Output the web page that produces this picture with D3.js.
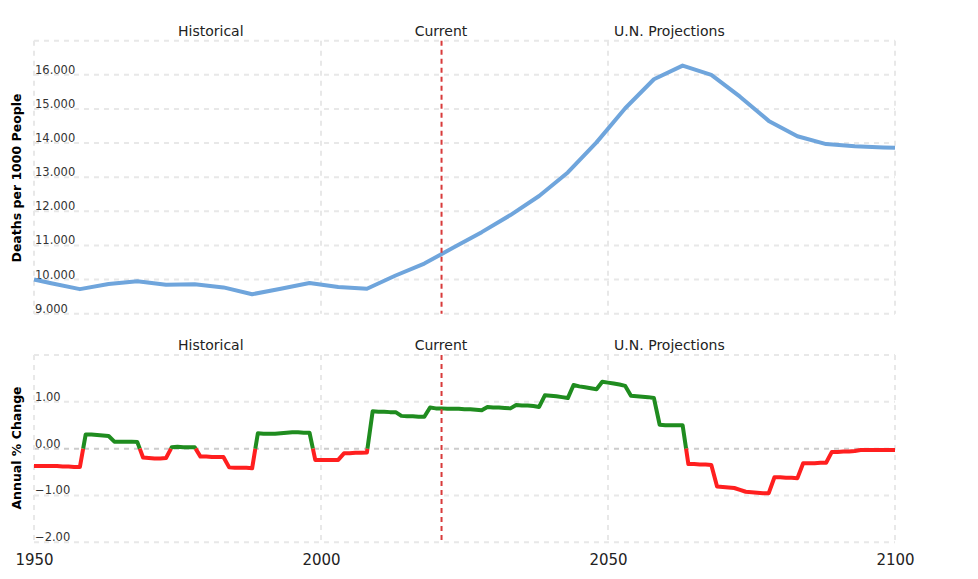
<!DOCTYPE html>
<html><head><meta charset="utf-8">
<script src="https://cdn.jsdelivr.net/npm/d3@7"></script>
<style>body{margin:0;background:#fff;}svg{display:block;font-family:"DejaVu Sans",Verdana,sans-serif;}</style>
</head><body>
<svg id="c" width="978" height="579"></svg>
<script>
// ---- data ----
const rateYears = [1950,1953,1958,1963,1968,1973,1978,1983,1988,1993,1998,2003,2008,2013,2018,2023,2028,2033,2038,2043,2048,2053,2058,2063,2068,2073,2078,2083,2088,2093,2098,2100];
const rateValues = [10.00,9.89,9.72,9.87,9.95,9.85,9.86,9.77,9.57,9.73,9.90,9.78,9.73,10.12,10.47,10.93,11.39,11.89,12.45,13.14,14.02,15.02,15.87,16.27,16.00,15.36,14.65,14.20,13.97,13.91,13.87,13.86];
const changeStartYear = 1950;
const changeValues = [
 -0.37,-0.37,-0.37,-0.37,-0.37,-0.38,-0.38,-0.39,-0.39,
 0.30,0.30,0.29,0.28,0.27,
 0.15,0.15,0.15,0.15,0.14,
 -0.19,-0.20,-0.21,-0.21,-0.20,
 0.03,0.04,0.03,0.03,0.03,
 -0.17,-0.17,-0.18,-0.18,-0.18,
 -0.40,-0.41,-0.41,-0.41,-0.42,
 0.33,0.32,0.32,0.32,0.33,
 0.34,0.35,0.35,0.34,0.34,
 -0.24,-0.24,-0.24,-0.24,-0.24,
 -0.10,-0.10,-0.09,-0.09,-0.08,
 0.80,0.79,0.79,0.78,0.78,
 0.70,0.69,0.69,0.68,0.68,
 0.88,0.86,0.86,0.85,0.85,
 0.85,0.84,0.84,0.83,0.82,
 0.89,0.88,0.88,0.87,0.86,
 0.93,0.92,0.92,0.91,0.89,
 1.14,1.13,1.12,1.10,1.08,
 1.36,1.33,1.31,1.29,1.27,
 1.43,1.41,1.39,1.37,1.34,
 1.13,1.12,1.11,1.10,1.08,
 0.51,0.50,0.50,0.50,0.50,
 -0.33,-0.33,-0.34,-0.34,-0.35,
 -0.81,-0.82,-0.83,-0.84,-0.88,
 -0.92,-0.93,-0.94,-0.95,-0.95,
 -0.61,-0.61,-0.62,-0.62,-0.63,
 -0.31,-0.31,-0.31,-0.30,-0.30,
 -0.07,-0.07,-0.06,-0.06,-0.05,
 -0.03,-0.03,-0.03,-0.03,-0.03,
 -0.03,-0.03];
const xTicks = [1950,2000,2050,2100];
const topTicks = [9,10,11,12,13,14,15,16];
const bottomTicks = [-2,-1,0,1];
const currentYear = 2021;
const regionLabels = [{text:"Historical",year:1980.8},{text:"Current",year:2020.9},{text:"U.N. Projections",year:2060.7}];
const topTitle = "Deaths per 1000 People";
const bottomTitle = "Annual % Change";

// ---- drawing ----
const svg = d3.select("#c");
const x = d3.scaleLinear().domain([1950,2100]).range([34,895]);
const yTop = d3.scaleLinear().domain([9,17]).range([313.7,40.7]);
const yBot = d3.scaleLinear().domain([-2,2]).range([542.3,355]);
const gridColor = "#e8e8e8";

function panel(y, ticks, fmt, title, titleY, dashedZero){
  const g = svg.append("g");
  const all = ticks.concat([y.domain()[1]]);
  g.selectAll("line.h").data(all).enter().append("line")
    .attr("x1",x(1950)).attr("x2",x(2100))
    .attr("y1",d=>y(d)).attr("y2",d=>y(d))
    .attr("stroke",d=>(dashedZero && d===0)?"#cccccc":gridColor)
    .attr("stroke-width",2)
    .attr("stroke-dasharray","5,5");
  g.selectAll("line.v").data(xTicks).enter().append("line")
    .attr("x1",d=>x(d)).attr("x2",d=>x(d))
    .attr("y1",y.range()[1]).attr("y2",y.range()[0])
    .attr("stroke",gridColor).attr("stroke-width",2).attr("stroke-dasharray","5,5");
  g.selectAll("text.t").data(ticks).enter().append("text")
    .attr("x",x(1950)+1).attr("y",d=>y(d)-1)
    .attr("font-size",11.5).attr("fill","#333").text(fmt);
  svg.append("text").attr("transform",`translate(21,${titleY}) rotate(-90)`)
    .attr("text-anchor","middle").attr("font-size",12.5).attr("font-weight","bold")
    .attr("fill","#000").text(title);
  svg.selectAll(null).data(regionLabels).enter().append("text")
    .attr("x",d=>x(d.year)).attr("y",y.range()[1]-5)
    .attr("text-anchor","middle").attr("font-size",14).attr("fill","#222").text(d=>d.text);
  return g;
}

panel(yTop, topTicks, d3.format(".3f"), topTitle, 178, false);
panel(yBot, bottomTicks, d3.format(".2f"), bottomTitle, 448, true);

// top line
const topData = rateYears.map((yr,i)=>({yr, v:rateValues[i]}));
svg.append("path").datum(topData)
  .attr("d", d3.line().x(d=>x(d.yr)).y(d=>yTop(d.v)))
  .attr("fill","none").attr("stroke","#6fa5dc").attr("stroke-width",4).attr("stroke-linejoin","round");

// bottom line, split into runs by sign (split at zero crossings)
const botData = changeValues.map((v,i)=>({yr:changeStartYear+i, v}));
const runs = [];
let cur = {pos: botData[0].v >= 0, pts:[botData[0]]};
for (let i=1;i<botData.length;i++){
  const a = botData[i-1], b = botData[i];
  const pos = b.v >= 0;
  if (pos === cur.pos){ cur.pts.push(b); }
  else {
    const t = a.v/(a.v-b.v);
    const z = {yr: a.yr + t*(b.yr-a.yr), v:0};
    cur.pts.push(z); runs.push(cur);
    cur = {pos, pts:[z,b]};
  }
}
runs.push(cur);
const bl = d3.line().x(d=>x(d.yr)).y(d=>yBot(d.v));
svg.selectAll("path.run").data(runs).enter().append("path")
  .attr("d",d=>bl(d.pts)).attr("fill","none")
  .attr("stroke",d=>d.pos?"#1f8c1f":"#ff1f1f").attr("stroke-width",4).attr("stroke-linejoin","round");

// current lines
[yTop,yBot].forEach(y=>{
  svg.append("line").attr("x1",x(currentYear)).attr("x2",x(currentYear))
    .attr("y1",y.range()[1]).attr("y2",y.range()[0])
    .attr("stroke","#d83a3a").attr("stroke-width",2).attr("stroke-dasharray","5,4");
});

// x axis labels
const xa = d3.axisBottom(x).tickValues(xTicks).tickFormat(d3.format("d")).tickSize(0);
svg.append("g").attr("transform","translate(0,551)").call(xa)
  .call(g=>g.select(".domain").remove())
  .call(g=>g.selectAll("text").attr("font-size",15).attr("fill","#222").attr("font-family","DejaVu Sans, Verdana, sans-serif"));
</script>
</body></html>
